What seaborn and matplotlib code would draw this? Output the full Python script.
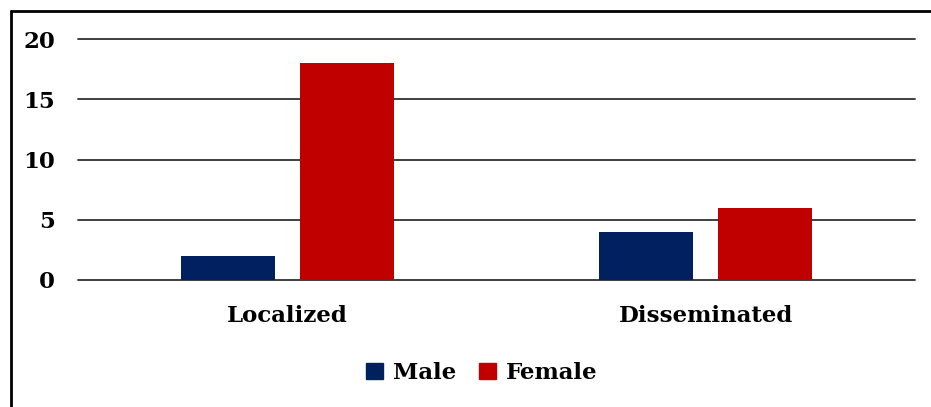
import matplotlib
matplotlib.use("Agg")
import matplotlib.pyplot as plt
import seaborn as sns
import pandas as pd
from matplotlib.lines import Line2D

categories = ["Localized", "Disseminated"]
male = [2, 4]
female = [18, 6]
series = ["Male", "Female"]
yticks = [0, 5, 10, 15, 20]

df = pd.DataFrame({
    "Type": categories * 2,
    "Sex": ["Male"] * len(categories) + ["Female"] * len(categories),
    "Count": male + female,
})

sns.set_theme(style="white")
plt.rcParams["font.family"] = ["DejaVu Serif"]
plt.rcParams["font.weight"] = "bold"
plt.rcParams["text.color"] = "black"
plt.rcParams["xtick.color"] = "black"
plt.rcParams["ytick.color"] = "black"

W, H = 931, 407
fig = plt.figure(figsize=(W / 100, H / 100), dpi=100)
ax = fig.add_axes([78 / W, 1 - 280 / H, (915 - 78) / W, (280 - 39) / H])

palette = {"Male": "#002060", "Female": "#C00000"}
sns.barplot(data=df, x="Type", y="Count", hue="Sex", hue_order=series,
            palette=palette, width=0.569, gap=0.21, ax=ax, saturation=1,
            legend=False, zorder=3, linewidth=0)

ax.set_ylim(0, 20)
ax.set_yticks(yticks)
ax.set_xlim(-0.5, 1.5)
for y in yticks:
    ax.axhline(y, color="#303030", lw=1.3, zorder=1, clip_on=False)
for s in ax.spines.values():
    s.set_visible(False)
ax.tick_params(axis="both", length=0, labelsize=16.5, labelcolor="black")
ax.tick_params(axis="y", pad=16.5)
ax.tick_params(axis="x", pad=18)
for lab in ax.get_xticklabels() + ax.get_yticklabels():
    lab.set_fontweight("bold")
ax.set_xlabel("")
ax.set_ylabel("")

handles = [plt.Rectangle((0, 0), 1, 1, color=palette[s]) for s in series]
fig.legend(handles, series, loc="center", bbox_to_anchor=(482 / W, 1 - 373 / H),
           ncol=2, frameon=False, prop={"weight": "bold", "size": 16.5},
           handlelength=0.72, handleheight=0.72, handletextpad=0.45, columnspacing=1.0)

# outer border
fig.add_artist(Line2D([10.5 / W, 10.5 / W], [0, 1 - 10.5 / H], color="black", lw=2, transform=fig.transFigure))
fig.add_artist(Line2D([10.5 / W, 1], [1 - 10.5 / H, 1 - 10.5 / H], color="black", lw=2, transform=fig.transFigure))

fig.savefig("out.png", dpi=100)
